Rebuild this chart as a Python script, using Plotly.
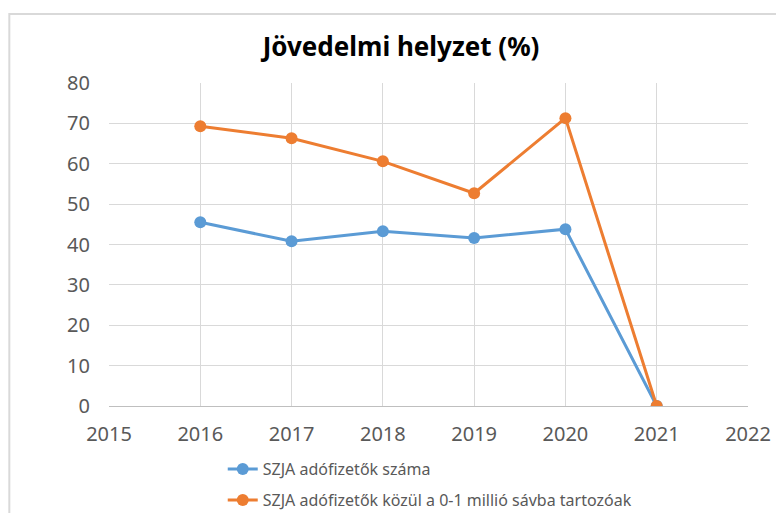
import plotly.graph_objects as go

years = [2016, 2017, 2018, 2019, 2020, 2021]
szja_adofizetok = [45.5, 40.8, 43.3, 41.6, 43.8, 0]
szja_0_1_millio = [69.3, 66.3, 60.6, 52.7, 71.3, 0]

series_names = [
    "SZJA adófizetők száma",
    "SZJA adófizetők közül a 0-1 millió sávba tartozóak",
]

FONT = "Noto Sans, sans-serif"

fig = go.Figure()

fig.add_trace(go.Scatter(
    x=years, y=szja_adofizetok, name=series_names[0],
    mode="lines+markers", legend="legend",
    line=dict(color="#5b9bd5", width=3),
    marker=dict(color="#5b9bd5", size=12),
))
fig.add_trace(go.Scatter(
    x=years, y=szja_0_1_millio, name=series_names[1],
    mode="lines+markers", legend="legend2",
    line=dict(color="#ed7d31", width=3),
    marker=dict(color="#ed7d31", size=12),
))

# chart frame (only top/left edges are visible in the source)
fig.add_shape(type="rect", xref="paper", yref="paper",
              x0=-0.156, x1=1.2, y0=-0.6, y1=1.214,
              line=dict(color="#d9d9d9", width=2), fillcolor="rgba(0,0,0,0)")

legend_style = dict(orientation="v", xanchor="left", yanchor="middle",
                    font=dict(family=FONT, size=16, color="#595959"),
                    bgcolor="rgba(0,0,0,0)")

# page body adds ~8px offset, so figure is a bit smaller than the window
fig.update_layout(
    width=776, height=505,
    margin=dict(l=101, r=36, t=75, b=107, autoexpand=False),
    paper_bgcolor="white", plot_bgcolor="white",
    font=dict(family=FONT, color="#595959"),
    title=dict(text="<b>Jövedelmi helyzet (%)</b>", x=0.457,
               xref="paper", xanchor="center", y=0.923, yanchor="middle",
               font=dict(family=FONT, size=26, color="black")),
    showlegend=True,
    legend=dict(x=0.178, y=-0.195, **legend_style),
    legend2=dict(x=0.178, y=-0.291, **legend_style),
)

fig.update_xaxes(range=[2015, 2022], dtick=1, tick0=2015, automargin=False,
                 showgrid=True, gridcolor="#d9d9d9", gridwidth=1,
                 showline=True, linecolor="#bfbfbf", linewidth=1,
                 zeroline=False, ticks="", ticklabelstandoff=10,
                 tickfont=dict(size=20, color="#595959"))
fig.update_yaxes(range=[0, 80], dtick=10, automargin=False,
                 showgrid=True, gridcolor="#d9d9d9", gridwidth=1,
                 zeroline=False, showline=False, ticks="",
                 ticklabelstandoff=18,
                 tickfont=dict(size=20, color="#595959"))

fig.write_html("out.html")
